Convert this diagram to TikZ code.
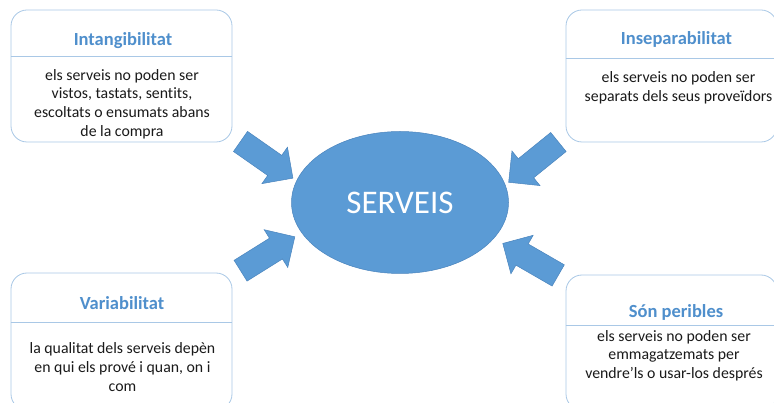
\documentclass[tikz,border=0pt]{standalone}
\usepackage{fontspec}
\setmainfont{Carlito}[Ligatures=NoCommon]
\usetikzlibrary{shapes.geometric,shapes.arrows}
\definecolor{accent}{HTML}{5B9BD5}
\definecolor{accentedge}{HTML}{4A84BD}
\definecolor{titleblue}{HTML}{4F8FCC}
\definecolor{boxedge}{HTML}{A9C8E6}
\definecolor{bodytext}{HTML}{1A1A1A}

\begin{document}
\begin{tikzpicture}[x=1pt,y=-1pt,
  card/.style={draw=boxedge, line width=0.8pt, rounded corners=16pt, fill=white, inner sep=0pt},
  rule/.style={draw=boxedge, line width=0.8pt},
  cardtitle/.style={font=\fontsize{18.5}{22}\selectfont\bfseries, text=titleblue, inner sep=0pt},
  cardbody/.style={font=\fontsize{15.8}{18.6}\selectfont, text=bodytext, align=center, inner sep=0pt},
  hub/.style={ellipse, fill=accent, draw=accentedge, line width=0.5pt, minimum width=217pt,
    minimum height=142pt, inner sep=0pt, text=white, font=\fontsize{33}{40}\selectfont},
  blockarrow/.style={single arrow, fill=accent, draw=accentedge, line width=0.5pt,
    minimum height=64pt, inner xsep=0pt, inner ysep=12pt,
    single arrow head extend=10pt, single arrow tip angle=90}]
\useasboundingbox (0,0) rectangle (774,403);
\clip (0,0) rectangle (774,403);

% the four property cards
\node[card, minimum width=221pt, minimum height=132pt] (c1) at (121.5,76) {};
\node[card, minimum width=211pt, minimum height=132pt] (c2) at (671.5,76) {};
\node[card, minimum width=221pt, minimum height=137pt] (c3) at (121.5,341.5) {};
\node[card, minimum width=211pt, minimum height=135pt] (c4) at (671.5,342.5) {};

% header separators
\coordinate (d1) at (0,56);
\coordinate (d2) at (0,58);
\coordinate (d3) at (0,322);
\coordinate (d4) at (0,325);
\draw[rule] (c1.west |- d1) -- (c1.east |- d1);
\draw[rule] (c2.west |- d2) -- (c2.east |- d2);
\draw[rule] (c3.west |- d3) -- (c3.east |- d3);
\draw[rule] (c4.west |- d4) -- (c4.east |- d4);

% titles
\node[cardtitle] (t1) at (123,41) {Intangibilitat};
\node[cardtitle] (t2) at (676.5,39) {Inseparabilitat};
\node[cardtitle] (t3) at (122,303.5) {Variabilitat};
\node[cardtitle] (t4) at (676,312) {Són peribles};

% descriptions
\node[cardbody] (b1) at (122,104) {els serveis no poden ser\\vistos, tastats, sentits,\\escoltats o ensumats abans\\de la compra};
\node[cardbody] (b2) at (678.5,88) {els serveis no poden ser\\separats dels seus proveïdors};
\node[cardbody] (b3) at (122.5,367) {la qualitat dels serveis depèn\\en qui els prové i quan, on i\\com};
\node[cardbody] (b4) at (674,355.5) {els serveis no poden ser\\emmagatzemats per\\vendre’ls o usar-los després};

% central concept
\node[hub] (hub) at (400,202.5) {SERVEIS};

% block arrows pointing at the centre
\node[blockarrow, rotate=-35] (a1) at (261.7,156.3) {};
\node[blockarrow, rotate=-141] (a2) at (538.3,158.3) {};
\node[blockarrow, rotate=32] (a3) at (262.5,257) {};
\node[blockarrow, rotate=150] (a4) at (535.8,262.5) {};
\end{tikzpicture}
\end{document}
